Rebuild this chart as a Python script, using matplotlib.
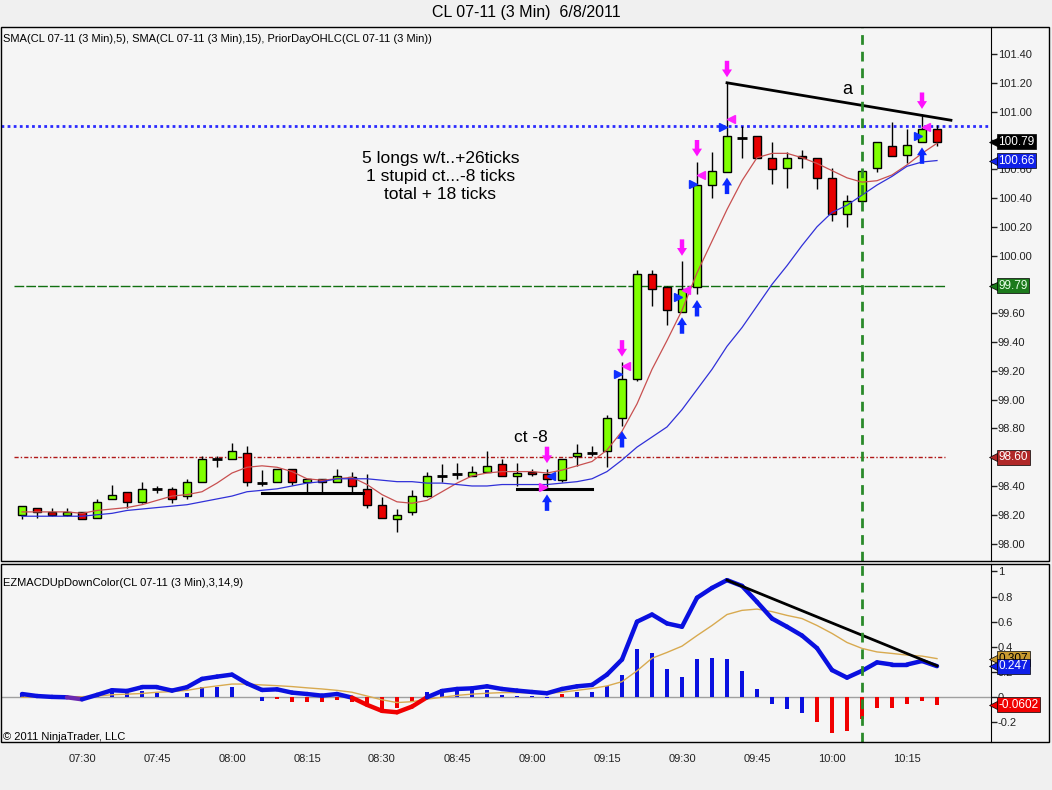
import matplotlib
matplotlib.use('Agg')
import matplotlib.pyplot as plt
import matplotlib.transforms as mtransforms
from matplotlib.patches import Rectangle
from matplotlib.collections import LineCollection
import numpy as np
import pandas as pd

plt.rcParams['font.family'] = ['Liberation Sans', 'DejaVu Sans']

# 3 minute bars, CL 07-11, 6/8/2011
times = pd.date_range('2011-06-08 07:18', periods=62, freq='3min')

opens = [98.20, 98.25, 98.22, 98.20, 98.22, 98.18, 98.31, 98.36, 98.29, 98.38,
         98.38, 98.33, 98.43, 98.59, 98.59, 98.63, 98.42, 98.43, 98.52, 98.43,
         98.45, 98.43, 98.46, 98.38, 98.27, 98.17, 98.22, 98.33, 98.47, 98.48,
         98.47, 98.50, 98.55, 98.47, 98.50, 98.48, 98.44, 98.61, 98.63, 98.64,
         98.87, 99.14, 99.87, 99.78, 99.61, 99.78, 100.49, 100.58, 100.82, 100.83,
         100.68, 100.61, 100.69, 100.68, 100.54, 100.29, 100.38, 100.61, 100.76, 100.70,
         100.79, 100.88]
highs = [98.26, 98.25, 98.25, 98.25, 98.22, 98.31, 98.41, 98.36, 98.43, 98.40,
         98.39, 98.45, 98.61, 98.61, 98.70, 98.68, 98.51, 98.52, 98.52, 98.45,
         98.45, 98.52, 98.50, 98.48, 98.32, 98.24, 98.37, 98.50, 98.55, 98.56,
         98.54, 98.64, 98.59, 98.56, 98.52, 98.52, 98.59, 98.69, 98.68, 98.89,
         99.26, 99.90, 99.90, 99.79, 99.96, 100.65, 100.72, 101.20, 100.90, 100.83,
         100.79, 100.72, 100.73, 100.68, 100.61, 100.42, 100.59, 100.79, 100.93, 100.88,
         100.98, 100.91]
lows = [98.17, 98.18, 98.19, 98.19, 98.17, 98.18, 98.31, 98.25, 98.28, 98.35,
        98.28, 98.31, 98.43, 98.53, 98.59, 98.40, 98.40, 98.43, 98.41, 98.35,
        98.35, 98.43, 98.36, 98.25, 98.18, 98.08, 98.20, 98.32, 98.43, 98.45,
        98.47, 98.50, 98.47, 98.40, 98.47, 98.38, 98.43, 98.54, 98.61, 98.53,
        98.82, 99.13, 99.65, 99.52, 99.61, 99.73, 100.40, 100.58, 100.68, 100.68,
        100.50, 100.47, 100.61, 100.46, 100.24, 100.20, 100.38, 100.58, 100.69, 100.64,
        100.79, 100.76]
closes = [98.26, 98.22, 98.20, 98.22, 98.17, 98.29, 98.34, 98.29, 98.38, 98.38,
          98.31, 98.43, 98.59, 98.59, 98.64, 98.43, 98.42, 98.52, 98.43, 98.45,
          98.43, 98.47, 98.40, 98.27, 98.18, 98.20, 98.33, 98.47, 98.47, 98.48,
          98.50, 98.54, 98.47, 98.49, 98.48, 98.45, 98.59, 98.63, 98.63, 98.87,
          99.14, 99.87, 99.77, 99.62, 99.77, 100.49, 100.59, 100.83, 100.82, 100.68,
          100.60, 100.68, 100.68, 100.54, 100.29, 100.38, 100.59, 100.79, 100.69, 100.77,
          100.88, 100.79]

sma5 = [98.22, 98.22, 98.22, 98.22, 98.21, 98.23, 98.24, 98.25, 98.27, 98.30,
        98.33, 98.34, 98.36, 98.42, 98.49, 98.53, 98.54, 98.53, 98.50, 98.45,
        98.44, 98.45, 98.46, 98.41, 98.34, 98.29, 98.28, 98.30, 98.36, 98.42,
        98.47, 98.49, 98.50, 98.50, 98.50, 98.49, 98.51, 98.54, 98.57, 98.65,
        98.78, 98.97, 99.21, 99.41, 99.62, 99.88, 100.10, 100.32, 100.52, 100.68,
        100.71, 100.71, 100.68, 100.64, 100.59, 100.54, 100.51, 100.52, 100.56, 100.63,
        100.71, 100.78]
sma15 = [98.19, 98.19, 98.19, 98.19, 98.19, 98.20, 98.21, 98.23, 98.24, 98.25,
         98.26, 98.27, 98.29, 98.31, 98.33, 98.36, 98.37, 98.38, 98.40, 98.42,
         98.43, 98.45, 98.45, 98.45, 98.44, 98.43, 98.43, 98.42, 98.42, 98.41,
         98.40, 98.40, 98.41, 98.41, 98.41, 98.41, 98.42, 98.43, 98.45, 98.50,
         98.58, 98.67, 98.74, 98.81, 98.93, 99.07, 99.21, 99.37, 99.50, 99.65,
         99.80, 99.93, 100.07, 100.20, 100.30, 100.35, 100.42, 100.49, 100.55, 100.62,
         100.65, 100.66]

macd = [0.026, 0.010, 0.003, 0.000, -0.016, 0.019, 0.056, 0.050, 0.080, 0.080,
        0.053, 0.080, 0.146, 0.164, 0.180, 0.110, 0.058, 0.063, 0.037, 0.026,
        0.013, 0.026, -0.003, -0.060, -0.108, -0.119, -0.074, 0.000, 0.050, 0.066,
        0.071, 0.087, 0.066, 0.053, 0.042, 0.032, 0.066, 0.087, 0.098, 0.180,
        0.300, 0.600, 0.657, 0.586, 0.560, 0.790, 0.868, 0.930, 0.884, 0.757,
        0.625, 0.560, 0.490, 0.390, 0.216, 0.156, 0.210, 0.277, 0.260, 0.260,
        0.288, 0.247]
signal = [0.000, 0.005, 0.005, 0.005, 0.005, 0.010, 0.020, 0.025, 0.030, 0.040,
          0.045, 0.055, 0.075, 0.090, 0.105, 0.105, 0.098, 0.092, 0.085, 0.075,
          0.066, 0.055, 0.040, 0.010, -0.020, -0.042, -0.035, -0.015, 0.000, 0.015,
          0.025, 0.032, 0.037, 0.037, 0.035, 0.032, 0.040, 0.055, 0.070, 0.090,
          0.124, 0.210, 0.310, 0.356, 0.406, 0.490, 0.570, 0.657, 0.690, 0.700,
          0.680, 0.650, 0.625, 0.570, 0.507, 0.435, 0.388, 0.360, 0.348, 0.335,
          0.327, 0.307]
hist = [0.020, 0.005, 0.000, -0.005, -0.010, 0.010, 0.050, 0.037, 0.050, 0.037,
        0.005, 0.037, 0.080, 0.085, 0.085, 0.000, -0.030, -0.013, -0.040, -0.035,
        -0.040, -0.020, -0.035, -0.042, -0.105, -0.082, -0.035, 0.045, 0.063, 0.058,
        0.058, 0.058, 0.018, 0.013, 0.010, -0.008, 0.026, 0.045, 0.045, 0.092,
        0.177, 0.383, 0.354, 0.224, 0.164, 0.303, 0.311, 0.303, 0.208, 0.066,
        -0.050, -0.095, -0.121, -0.193, -0.280, -0.264, -0.174, -0.082, -0.082, -0.055,
        -0.026, -0.060]
hist_colors = "bbbbbbbbbbbbbbbbbrrrrrrrrrrbbbbbbbbbrbbbbbbbbbbbbbbbbrrrrrrrrrr"

# prior day levels
prior_high = 100.90
prior_close = 99.79
prior_open = 98.60

# trade signals
sig_bars = [35, 40, 44, 45, 47, 60]
sig_blue = [98.47, 99.18, 99.71, 100.50, 100.89, 100.83]
sig_pink = [98.39, 99.23, 99.76, 100.56, 100.95, 100.89]
sig_side = [-1, 1, 1, 1, 1, 1]

marker_bar = 56  # green vertical line

W, H = 1052, 790
fig = plt.figure(figsize=(W / 100, H / 100), dpi=100, facecolor='#f0f0f0')
panel = '#f5f5f5'

def fx(px):
    return px / W

def fy(py):
    return 1 - py / H

ax = fig.add_axes([fx(1), fy(561), fx(990), (561 - 27) / H], facecolor=panel)
ax2 = fig.add_axes([fx(1), fy(742), fx(990), (742 - 564) / H], facecolor=panel)

# backgrounds/frames including the label area on the right
for top, bot in [(27, 561), (564, 742)]:
    fig.add_artist(Rectangle((fx(1), fy(bot)), fx(1048), (bot - top) / H,
                             transform=fig.transFigure, fc=panel, ec='none', zorder=-1))
    fig.add_artist(Rectangle((fx(1), fy(bot)), fx(1048), (bot - top) / H,
                             transform=fig.transFigure, fill=False, ec='black', lw=1, zorder=20))

x = np.arange(len(closes))
o = np.array(opens); h = np.array(highs); l = np.array(lows); c = np.array(closes)

# candles
ax.vlines(x, l, h, color='black', lw=1, zorder=2)
body = o != c
cols = np.where(c > o, '#80ff00', '#e80000')
ax.bar(x[body], np.abs(c - o)[body], bottom=np.minimum(o, c)[body], width=0.56,
       color=cols[body], edgecolor='black', linewidth=1, zorder=3)
ax.hlines(c[~body], x[~body] - 0.33, x[~body] + 0.33, color='black', lw=2, zorder=3)

# moving averages
ax.plot(x, sma5, color='#c85050', lw=0.9, zorder=4)
ax.plot(x, sma15, color='#3030d8', lw=0.9, zorder=4)

# prior day lines
ax.axhline(prior_high, color='#2a2aff', lw=2, ls=(0, (1, 1.2)), zorder=1)
ax.hlines(prior_close, -0.5, 61.5, color='#107010', lw=1, linestyles=(0, (7, 1.5)), zorder=1)
ax.hlines(prior_open, -0.5, 61.5, color='#b01818', lw=1, linestyles=(0, (3, 1.5, 1, 1.5)), zorder=1)

# drawn objects
ax.plot([16, 22.7], [98.35, 98.35], color='black', lw=2.2, zorder=5)
ax.plot([33, 38], [98.38, 98.38], color='black', lw=2.2, zorder=5)
ax.plot([47, 61.93], [101.20, 100.94], color='black', lw=2, zorder=5)
ax.axvline(marker_bar, color='#2a8a2a', lw=2, ls=(0, (3.5, 2.5)), zorder=6)

# signal markers
for b, pb, pp, s in zip(sig_bars, sig_blue, sig_pink, sig_side):
    ax.annotate('', xy=(b, highs[b]), xytext=(0, 22), textcoords='offset pixels',
                arrowprops=dict(arrowstyle='simple,head_length=0.7,head_width=0.9,tail_width=0.4',
                                fc='#ff10ff', ec='none', mutation_scale=8, shrinkA=0, shrinkB=4),
                zorder=7)
    ax.annotate('', xy=(b, lows[b]), xytext=(0, -22), textcoords='offset pixels',
                arrowprops=dict(arrowstyle='simple,head_length=0.7,head_width=0.9,tail_width=0.4',
                                fc='#0a28ff', ec='none', mutation_scale=8, shrinkA=0, shrinkB=4),
                zorder=7)
    ax.plot(b - 0.27 * s, pb, marker='>' if s > 0 else '<', ms=5.5, color='#1030ff', ls='none', zorder=7)
    ax.plot(b + 0.27 * s, pp, marker='<' if s > 0 else '>', ms=5.5, color='#ff20ff', ls='none', zorder=7)

ax.set_xlim(-1.4, 64.6)
ax.set_ylim(97.879, 101.5875)
price_ticks = np.round(np.arange(98.0, 101.41, 0.2), 2)
ax.set_yticks(price_ticks)
# labels hidden behind the price tags on the reference
hidden = [98.60, 99.80, 100.80]
ax.set_yticklabels(['' if t in hidden else '%.2f' % t for t in price_ticks])
ax.yaxis.tick_right()
ax.tick_params(axis='y', direction='out', length=4, width=1, labelsize=8, pad=1, colors='#222222')
ax.set_xticks([])
for sp in ['left', 'top', 'bottom']:
    ax.spines[sp].set_visible(False)
ax.spines['right'].set_color('black')

# texts
fig.text(0.5, fy(13), 'CL 07-11 (3 Min)  6/8/2011', ha='center', va='center', fontsize=11.5)
ax.text(0.002, 0.9775, 'SMA(CL 07-11 (3 Min),5), SMA(CL 07-11 (3 Min),15), PriorDayOHLC(CL 07-11 (3 Min))',
        transform=ax.transAxes, ha='left', va='center', fontsize=8)
ax.text(27.9, 100.55, '5 longs w/t..+26ticks\n1 stupid ct...-8 ticks\ntotal + 18 ticks',
        ha='center', va='center', multialignment='center', fontsize=12.5, linespacing=1.22)
ax.text(33.9, 98.74, 'ct -8', ha='center', va='center', fontsize=12.5)
ax.text(55.0, 101.15, 'a', ha='center', va='center', fontsize=13)


def tag(a, val, text, fc, tc):
    tr = mtransforms.blended_transform_factory(a.transAxes, a.transData)
    a.plot([1.0035], [val], marker='<', ms=7.5, color=fc, mec='black', mew=0.5,
           transform=tr, clip_on=False, zorder=10)
    a.text(1.0075, val, text, transform=tr, ha='left', va='center', fontsize=8.5, color=tc,
           bbox=dict(boxstyle='square,pad=0.14', fc=fc, ec='black', lw=0.5), clip_on=False, zorder=11)


tag(ax, prior_open, '98.60', '#b02828', 'white')
tag(ax, prior_close, '99.79', '#1c7a1c', '#e8ffe8')
tag(ax, sma15[-1], '100.66', '#1020e8', 'white')
tag(ax, closes[-1], '100.79', 'black', 'white')

# MACD panel
ax2.axhline(0, color='#a0a0a0', lw=1, zorder=1)
ax2.bar(x, hist, width=0.27, color=['#0a10e0' if k == 'b' else '#f00000' for k in hist_colors], zorder=2)
ax2.plot(x, signal, color='#d8aa50', lw=1, zorder=3)
m = np.array(macd)
segs = np.stack([np.column_stack([x[:-1], m[:-1]]), np.column_stack([x[1:], m[1:]])], axis=1)
seg_cols = []
for i in range(len(m) - 1):
    avg = (m[i] + m[i + 1]) / 2
    if avg >= 0:
        seg_cols.append('#0a10e0')
    elif min(m[i], m[i + 1]) > -0.02:
        seg_cols.append('#6a28b0')
    else:
        seg_cols.append('#f00000')
ax2.add_collection(LineCollection(segs, colors=seg_cols, linewidths=3.2, zorder=4, capstyle='round'))
ax2.plot([47, 61], [0.93, 0.25], color='black', lw=2, zorder=5)
ax2.axvline(marker_bar, color='#2a8a2a', lw=2, ls=(0, (3.5, 2.5)), zorder=6)

ax2.set_xlim(-1.4, 64.6)
ax2.set_ylim(-0.355, 1.058)
ax2.set_yticks([-0.2, 0, 0.2, 0.4, 0.6, 0.8, 1.0])
ax2.set_yticklabels(['-0.2', '0', '0.2', '0.4', '0.6', '0.8', '1'])
ax2.yaxis.tick_right()
ax2.tick_params(axis='y', direction='out', length=4, width=1, labelsize=8, pad=1, colors='#222222')
tick_idx = [i for i, t in enumerate(times) if t.minute % 15 == 0]
ax2.set_xticks(tick_idx)
ax2.set_xticklabels([times[i].strftime('%H:%M') for i in tick_idx])
ax2.tick_params(axis='x', length=0, labelsize=8, pad=9, colors='#222222')
for sp in ['left', 'top', 'bottom']:
    ax2.spines[sp].set_visible(False)
ax2.spines['right'].set_color('black')

ax2.text(0.002, 0.893, 'EZMACDUpDownColor(CL 07-11 (3 Min),3,14,9)', transform=ax2.transAxes,
         ha='left', va='center', fontsize=8)
ax2.text(0.002, 0.03, '\u00a9 2011 NinjaTrader, LLC', transform=ax2.transAxes,
         ha='left', va='center', fontsize=8)

tag(ax2, signal[-1], '0.307', '#c89a30', 'black')
tag(ax2, macd[-1], '0.247', '#1020e8', 'white')
tag(ax2, hist[-1], '-0.0602', '#f00000', 'white')

fig.savefig('out.png', dpi=100, facecolor=fig.get_facecolor())
